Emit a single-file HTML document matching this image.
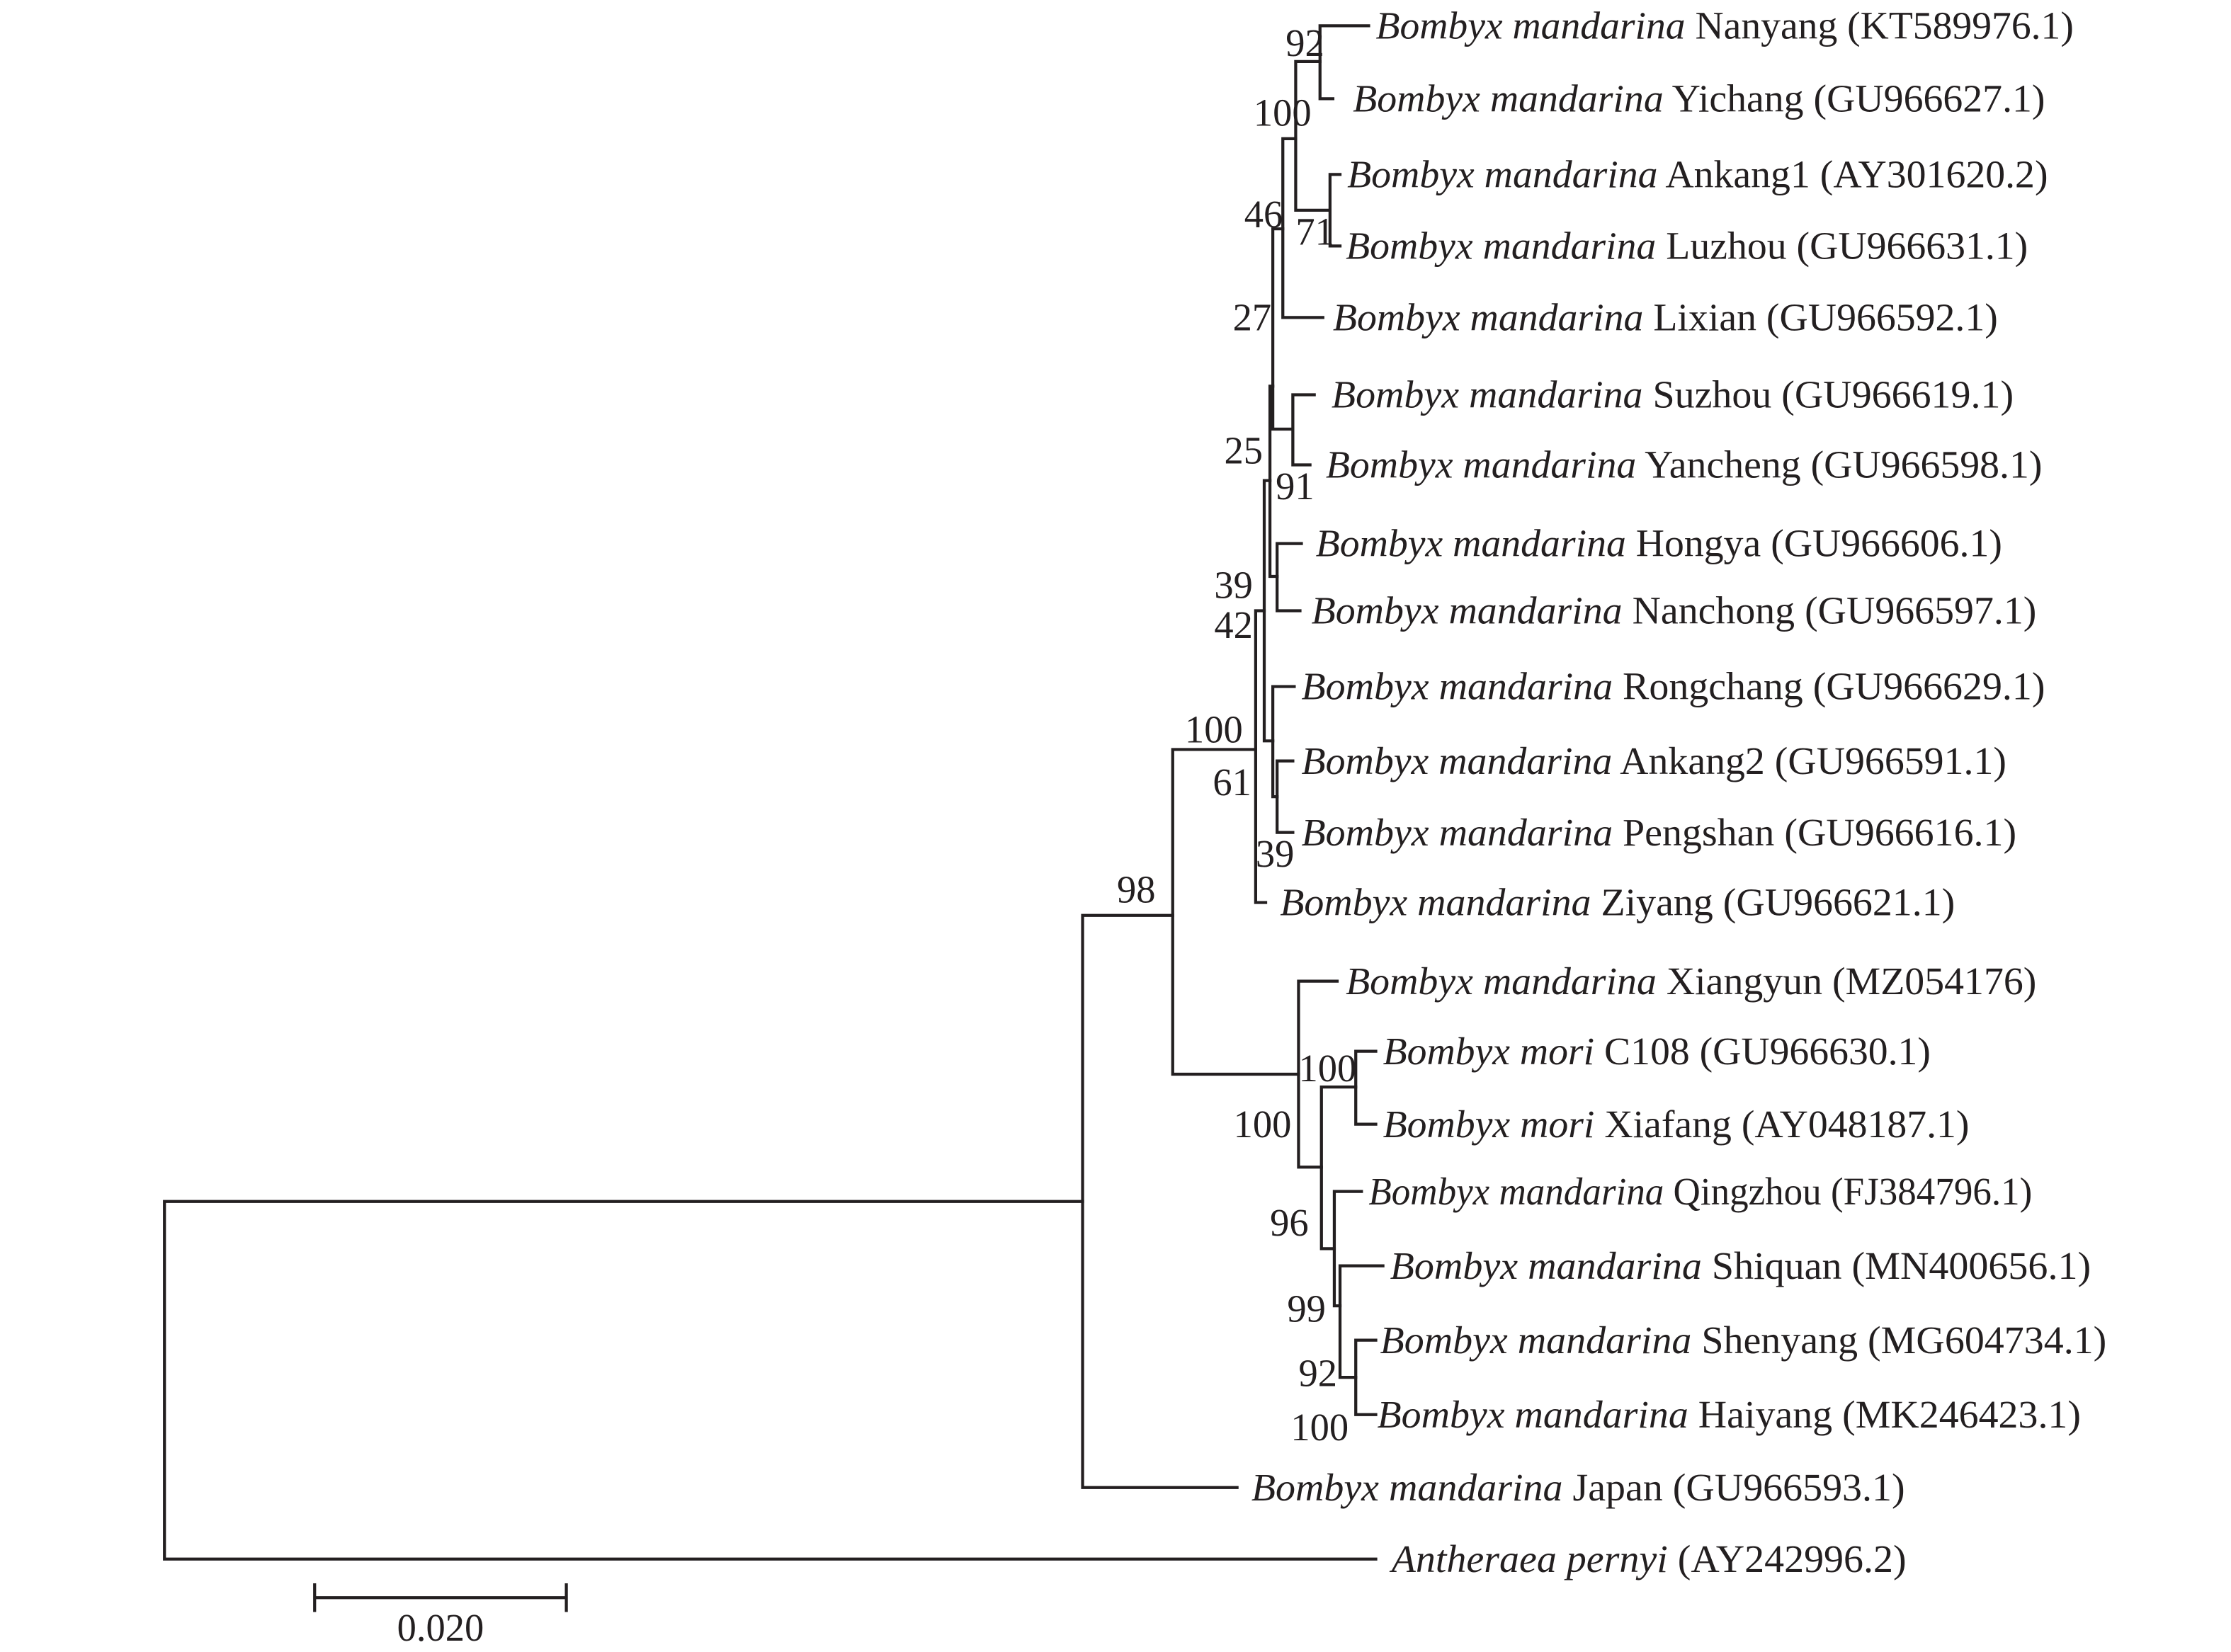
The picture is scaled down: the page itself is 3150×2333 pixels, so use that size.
<!DOCTYPE html>
<html><head><meta charset="utf-8"><style>
html,body{margin:0;padding:0;background:#fff;}
svg{display:block;}
text{font-family:"Liberation Serif",serif;font-size:27px;fill:#231f20;}
.i{font-style:italic;}
</style></head><body>
<svg width="3150" height="2333" viewBox="0 0 1560 1155" preserveAspectRatio="none" xmlns="http://www.w3.org/2000/svg">
<g stroke="#231f20" stroke-width="2.1" fill="none" stroke-linecap="square">
<path d="M115 840V1090M115 840H757M115 1090H962"/>
<path d="M757 640V1040M757 640H820M757 1040H865"/>
<path d="M820 524V751M820 524H878M820 751H908"/>
<path d="M878 427V631M878 427H884M878 631H885"/>
<path d="M884 336V518M884 336H888M884 518H890"/>
<path d="M888 270V403M888 270H890M888 403H893"/>
<path d="M893 380V427M893 380H910M893 427H909"/>
<path d="M890 160V300M890 160H897M890 300H904"/>
<path d="M904 276V325M904 276H919M904 325H916"/>
<path d="M897 97V222M897 97H906M897 222H925"/>
<path d="M906 43V147M906 43H923M906 147H930"/>
<path d="M923 18V69M923 18H957M923 69H932"/>
<path d="M930 122V172M930 122H937M930 172H937"/>
<path d="M890 480V557M890 480H905M890 557H893"/>
<path d="M893 532V582M893 532H904M893 582H904"/>
<path d="M908 686V816M908 686H935M908 816H924"/>
<path d="M924 760V873M924 760H948M924 873H933"/>
<path d="M948 735V786M948 735H962M948 786H962"/>
<path d="M933 833V913M933 833H952M933 913H937"/>
<path d="M937 885V963M937 885H967M937 963H948"/>
<path d="M948 937V989M948 937H962M948 989H962"/>
<path d="M220 1117H396M220 1108V1126M396 1108V1126"/>
</g>
<text x="962" y="27" textLength="488" lengthAdjust="spacingAndGlyphs"><tspan class="i">Bombyx mandarina</tspan> Nanyang (KT589976.1)</text>
<text x="946" y="78" textLength="484" lengthAdjust="spacingAndGlyphs"><tspan class="i">Bombyx mandarina</tspan> Yichang (GU966627.1)</text>
<text x="942" y="131" textLength="490" lengthAdjust="spacingAndGlyphs"><tspan class="i">Bombyx mandarina</tspan> Ankang1 (AY301620.2)</text>
<text x="941" y="181" textLength="477" lengthAdjust="spacingAndGlyphs"><tspan class="i">Bombyx mandarina</tspan> Luzhou (GU966631.1)</text>
<text x="932" y="231" textLength="465" lengthAdjust="spacingAndGlyphs"><tspan class="i">Bombyx mandarina</tspan> Lixian (GU966592.1)</text>
<text x="931" y="285" textLength="477" lengthAdjust="spacingAndGlyphs"><tspan class="i">Bombyx mandarina</tspan> Suzhou (GU966619.1)</text>
<text x="927" y="334" textLength="501" lengthAdjust="spacingAndGlyphs"><tspan class="i">Bombyx mandarina</tspan> Yancheng (GU966598.1)</text>
<text x="920" y="389" textLength="480" lengthAdjust="spacingAndGlyphs"><tspan class="i">Bombyx mandarina</tspan> Hongya (GU966606.1)</text>
<text x="917" y="436" textLength="507" lengthAdjust="spacingAndGlyphs"><tspan class="i">Bombyx mandarina</tspan> Nanchong (GU966597.1)</text>
<text x="910" y="489" textLength="520" lengthAdjust="spacingAndGlyphs"><tspan class="i">Bombyx mandarina</tspan> Rongchang (GU966629.1)</text>
<text x="910" y="541" textLength="493" lengthAdjust="spacingAndGlyphs"><tspan class="i">Bombyx mandarina</tspan> Ankang2 (GU966591.1)</text>
<text x="910" y="591" textLength="500" lengthAdjust="spacingAndGlyphs"><tspan class="i">Bombyx mandarina</tspan> Pengshan (GU966616.1)</text>
<text x="895" y="640" textLength="472" lengthAdjust="spacingAndGlyphs"><tspan class="i">Bombyx mandarina</tspan> Ziyang (GU966621.1)</text>
<text x="941" y="695" textLength="483" lengthAdjust="spacingAndGlyphs"><tspan class="i">Bombyx mandarina</tspan> Xiangyun (MZ054176)</text>
<text x="967" y="744" textLength="383" lengthAdjust="spacingAndGlyphs"><tspan class="i">Bombyx mori</tspan> C108 (GU966630.1)</text>
<text x="967" y="795" textLength="410" lengthAdjust="spacingAndGlyphs"><tspan class="i">Bombyx mori</tspan> Xiafang (AY048187.1)</text>
<text x="957" y="842" textLength="464" lengthAdjust="spacingAndGlyphs"><tspan class="i">Bombyx mandarina</tspan> Qingzhou (FJ384796.1)</text>
<text x="972" y="894" textLength="490" lengthAdjust="spacingAndGlyphs"><tspan class="i">Bombyx mandarina</tspan> Shiquan (MN400656.1)</text>
<text x="965" y="946" textLength="508" lengthAdjust="spacingAndGlyphs"><tspan class="i">Bombyx mandarina</tspan> Shenyang (MG604734.1)</text>
<text x="963" y="998" textLength="492" lengthAdjust="spacingAndGlyphs"><tspan class="i">Bombyx mandarina</tspan> Haiyang (MK246423.1)</text>
<text x="875" y="1049" textLength="457" lengthAdjust="spacingAndGlyphs"><tspan class="i">Bombyx mandarina</tspan> Japan (GU966593.1)</text>
<text x="973" y="1099" textLength="360" lengthAdjust="spacingAndGlyphs"><tspan class="i">Antheraea pernyi</tspan> (AY242996.2)</text>
<g text-anchor="end">
<text x="926" y="39">92</text>
<text x="917" y="88">100</text>
<text x="897" y="159">46</text>
<text x="889" y="231">27</text>
<text x="883" y="324">25</text>
<text x="876" y="418">39</text>
<text x="876" y="446">42</text>
<text x="869" y="519">100</text>
<text x="875" y="556">61</text>
<text x="808" y="631">98</text>
<text x="903" y="795">100</text>
<text x="915" y="864">96</text>
<text x="927" y="924">99</text>
<text x="935" y="969">92</text>
<text x="943" y="1007">100</text>
</g>
<text x="906" y="171">71</text>
<text x="892" y="349">91</text>
<text x="878" y="606">39</text>
<text x="908" y="756">100</text>
<text x="308" y="1147" text-anchor="middle">0.020</text>
</svg>
</body></html>
